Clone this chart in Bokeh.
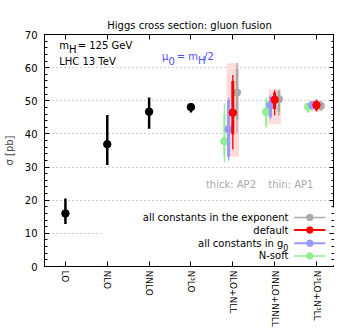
import math
from bokeh.plotting import figure
from bokeh.models import FixedTicker, LinearAxis, Range1d, CustomJSTickFormatter
from bokeh.core.properties import value
from bokeh.embed import file_html
from bokeh.resources import INLINE

# ---------------- data ----------------
categories = ["LO", "NLO", "NNLO", "N³LO", "NLO+NLL", "NNLO+NNLL", "N³LO+N³LL"]
cat_x = [1, 2, 3, 4, 5, 6, 7]

# fixed order (black)
fo_x = [1, 2, 3, 4]
fo_val = [16.0, 36.9, 46.7, 48.1]
fo_lo = [12.8, 30.6, 41.6, 46.5]
fo_hi = [20.5, 45.7, 51.0, 49.0]

# resummed
res_x = [5, 6, 7]
box_lo = [33.1, 42.9, 46.8]
box_hi = [61.3, 53.5, 50.2]

# N-soft (green)
nsoft_val = [37.8, 46.7, 48.2]
nsoft_thick_lo = [33.5, 42.5, 46.6]
nsoft_thick_hi = [46.0, 50.5, 49.1]
nsoft_thin_lo = [31.4, 41.9, 46.3]
nsoft_thin_hi = [49.2, 51.0, 49.3]

# all constants in g0 (blue)
g0_val = [41.4, 48.7, 48.7]
g0_thick_lo = [33.1, 45.0, 48.0]
g0_thick_hi = [50.2, 51.2, 49.4]
g0_thin_lo = [32.0, 44.4, 47.8]
g0_thin_hi = [51.0, 51.7, 49.6]

# default (red)
def_val = [46.4, 50.3, 48.7]
def_thick_lo = [39.8, 47.5, 47.2]
def_thick_hi = [56.0, 52.5, 50.0]
def_thin_lo = [35.3, 45.6, 46.8]
def_thin_hi = [57.8, 53.2, 50.4]

# all constants in the exponent (gray)
exp_val = [52.5, 50.5, 48.5]
exp_thick_lo = [44.5, 46.7, 47.3]
exp_thick_hi = [59.6, 53.0, 49.6]
exp_thin_lo = [40.0, 45.5, 47.1]
exp_thin_hi = [61.5, 53.3, 49.8]

legend_labels = ["all constants in the exponent", "default", "all constants in g", "N-soft"]
legend_colors = ["#aaaaaa", "#ff0000", "#9999ff", "#90ee90"]
legend_y = [14.8, 11.0, 7.0, 3.2]

y_major = [0, 10, 20, 30, 40, 50, 60, 70]
y_minor = list(range(0, 71, 2))

FONT = value("DejaVu Sans")

p = figure(width=334, height=329, x_range=Range1d(0.5, 7.43), y_range=Range1d(0, 70),
           output_backend="svg", toolbar_location=None,
           min_border_left=38, min_border_right=0, min_border_top=34, min_border_bottom=63,
           title="Higgs cross section: gluon fusion")
p.title.text_font = "DejaVu Sans"
p.title.text_font_size = "10px"
p.title.text_font_style = "normal"
p.title.align = "center"
p.title.text_color = "#000000"
p.title.standoff = 8
p.background_fill_color = "white"
p.border_fill_color = "white"
p.outline_line_color = "#000000"
p.outline_line_width = 1

# axes
p.xaxis.ticker = FixedTicker(ticks=cat_x)
p.xaxis.major_label_overrides = {x: c for x, c in zip(cat_x, categories)}
p.xaxis.major_label_orientation = "vertical"
p.xaxis.major_label_text_font = "DejaVu Sans"
p.xaxis.major_label_text_font_size = "9px"
p.xaxis.major_label_text_color = "#000000"
p.xaxis.major_label_standoff = 4
p.xaxis.major_tick_in = 5
p.xaxis.major_tick_out = 0
p.xaxis.minor_tick_line_color = None
p.xaxis.axis_line_color = "#000000"
p.xaxis.axis_label_standoff = 0

p.yaxis.ticker = FixedTicker(ticks=y_major, minor_ticks=y_minor)
p.yaxis.major_label_text_font = "DejaVu Sans"
p.yaxis.major_label_text_font_size = "10px"
p.yaxis.major_label_text_color = "#000000"
p.yaxis.major_label_standoff = 7
p.yaxis.major_tick_in = 5
p.yaxis.major_tick_out = 0
p.yaxis.minor_tick_in = 3
p.yaxis.minor_tick_out = 0
p.yaxis.axis_label = "σ [pb]"
p.yaxis.axis_label_text_font = "DejaVu Sans"
p.yaxis.axis_label_text_font_size = "10px"
p.yaxis.axis_label_text_font_style = "normal"
p.yaxis.axis_label_standoff = 7

blank = CustomJSTickFormatter(code="return ''")
ra = LinearAxis(ticker=FixedTicker(ticks=y_major, minor_ticks=y_minor), formatter=blank,
                major_label_standoff=0, major_tick_in=5, major_tick_out=0,
                minor_tick_in=3, minor_tick_out=0, axis_line_color=None, axis_label_standoff=0)
p.add_layout(ra, "right")
ta = LinearAxis(ticker=FixedTicker(ticks=cat_x), formatter=blank,
                major_label_standoff=0, major_tick_in=5, major_tick_out=0,
                minor_tick_line_color=None, axis_line_color=None, axis_label_standoff=0)
p.add_layout(ta, "above")

p.xgrid.grid_line_color = None
p.ygrid.ticker = FixedTicker(ticks=[10, 20, 30, 40, 50, 60])
p.ygrid.grid_line_color = "#a0a0a0"
p.ygrid.grid_line_dash = "1 3"
p.ygrid.grid_line_width = 1

# legend background (opaque like gnuplot key box)
p.quad(left=[1.86], right=[7.42], bottom=[0.4], top=[17.8], fill_color="white", line_color=None)

# boxes
p.quad(left=[x - 0.15 for x in res_x], right=[x + 0.15 for x in res_x], bottom=box_lo, top=box_hi,
       fill_color="#ffdcdc", line_color=None)

# fixed order
p.segment(x0=fo_x, x1=fo_x, y0=fo_lo, y1=fo_hi, line_color="#000000", line_width=2.5)
p.scatter(fo_x, fo_val, marker="circle", size=7.5, color="#000000")

series = [
    (-0.2, "#90ee90", nsoft_val, nsoft_thick_lo, nsoft_thick_hi, nsoft_thin_lo, nsoft_thin_hi, 2.0),
    (-0.1, "#9999ff", g0_val, g0_thick_lo, g0_thick_hi, g0_thin_lo, g0_thin_hi, 3.0),
    (0.1, "#aaaaaa", exp_val, exp_thick_lo, exp_thick_hi, exp_thin_lo, exp_thin_hi, 2.5),
    (0.0, "#ff0000", def_val, def_thick_lo, def_thick_hi, def_thin_lo, def_thin_hi, 3.0),
]
for off, col, val, tlo, thi, nlo, nhi, tw in series:
    xs = [x + off for x in res_x]
    p.segment(x0=xs, x1=xs, y0=nlo, y1=nhi, line_color=col, line_width=1.3)
    p.segment(x0=xs, x1=xs, y0=tlo, y1=thi, line_color=col, line_width=tw)
    p.scatter(xs, val, marker="circle", size=7.5, color=col)

# annotations
p.text(x=[0.851, 0.851, 0.851], y=[66.6, 66.6, 66.6], text=["m", "H", "= 125 GeV"],
       x_offset=[0, 9.7, 18.5], y_offset=[0, 4, 0],
       text_font=FONT, text_font_size={"value": "10px"}, text_baseline="middle",
       text_align="left", text_color="#000000")
p.text(x=[0.851], y=[61.8], text=["LHC 13 TeV"], text_font=FONT, text_font_size="10px",
       text_baseline="middle", text_align="left", text_color="#000000")
p.text(x=[3.31] * 5, y=[63.3] * 5, text=["μ", "0", "= m", "H", "/2"],
       x_offset=[0, 6.4, 14.7, 36.0, 42.0], y_offset=[0, 4, 0, 4, 0],
       text_font=FONT, text_font_size="10px", text_baseline="middle",
       text_align="left", text_color="#4d4dff")
p.text(x=[4.357, 5.847], y=[24.65, 24.65], text=["thick: AP2", "thin: AP1"],
       text_font=FONT, text_font_size="10px", text_baseline="middle",
       text_align="left", text_color="#aaaaaa")

# legend (gnuplot style: text then sample)
lx = 6.33
p.text(x=[lx] * 4, y=legend_y, text=legend_labels, x_offset=[0, 0, -5.1, 0],
       text_font=FONT, text_font_size="10px", text_baseline="middle",
       text_align="right", text_color="#000000")
p.text(x=[lx], y=[legend_y[2]], text=["0"], x_offset=[-5.1], y_offset=[4],
       text_font=FONT, text_font_size="8px", text_baseline="middle",
       text_align="left", text_color="#000000")
p.segment(x0=[6.465] * 4, x1=[7.21] * 4, y0=legend_y, y1=legend_y, line_color=legend_colors,
          line_width=[1.5, 2.0, 2.0, 1.5])
p.scatter([6.84] * 4, legend_y, marker="circle", size=6.5, color=legend_colors)

open("out.html", "w").write(file_html(p, INLINE))
